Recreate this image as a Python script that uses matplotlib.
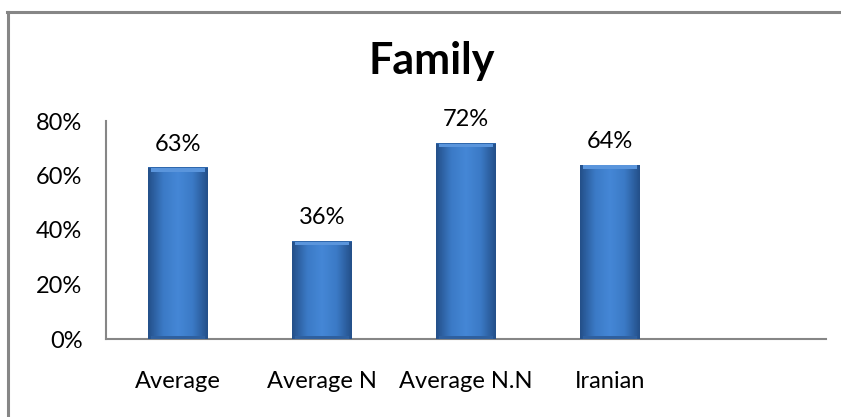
import matplotlib
matplotlib.use("Agg")
import matplotlib.pyplot as plt
import numpy as np
from matplotlib.colors import LinearSegmentedColormap
from matplotlib.lines import Line2D

categories = ["Average", "Average N", "Average N.N", "Iranian", ""]
values = [0.63, 0.36, 0.72, 0.64, np.nan]
labels = ["63%", "36%", "72%", "64%", ""]
yticks = [0, 0.2, 0.4, 0.6, 0.8]
ytick_labels = ["0%", "20%", "40%", "60%", "80%"]
title = "Family"

plt.rcParams['font.family'] = ['Lato', 'DejaVu Sans']
FS = 17

fig = plt.figure(figsize=(8.41, 4.17), dpi=100)
ax = fig.add_axes([106/841, (417-339)/417, (826-106)/841, (339-121)/417])

x = np.arange(len(categories))
bars = ax.bar(x, np.nan_to_num(values), width=0.41, color="#3C78C3", zorder=2,
              edgecolor="none")

cmap = LinearSegmentedColormap.from_list("bev", ["#24508A", "#3B7AC6", "#4587D6", "#3B7AC6", "#24508A"])
for b, v in zip(bars, values):
    if np.isnan(v):
        continue
    x0, y0 = b.get_x(), b.get_y()
    w, h = b.get_width(), b.get_height()
    grad = np.tile(np.linspace(0, 1, 60), (40, 1))
    im = ax.imshow(grad, cmap=cmap, extent=(x0, x0 + w, y0, y0 + h), aspect="auto",
                   origin="lower", zorder=3, interpolation="bicubic")
    im.set_clip_path(b)
    # top bevel highlight
    ax.add_patch(plt.Rectangle((x0 + w*0.05, y0 + h - 0.016), w*0.90, 0.014,
                               color="#5A95DC", zorder=4, lw=0))
    ax.add_patch(plt.Rectangle((x0, y0 + h - 0.003), w, 0.003,
                               color="#3068AD", zorder=4, lw=0))
    # bottom bevel shade
    ax.add_patch(plt.Rectangle((x0 + w*0.05, y0), w*0.90, 0.012,
                               color="#2F609F", zorder=4, lw=0))

for b, v, lab in zip(bars, values, labels):
    if np.isnan(v):
        continue
    ax.annotate(lab, (b.get_x() + b.get_width()/2, v), xytext=(0, 9),
                textcoords="offset points", ha="center", va="bottom",
                fontsize=FS, color="#000000")

ax.set_xlim(-0.5, len(categories) - 0.5)
ax.set_ylim(0, 0.8)
ax.set_yticks(yticks)
ax.set_yticklabels(ytick_labels, fontsize=FS)
ax.set_xticks(x)
ax.set_xticklabels(categories, fontsize=FS)
ax.tick_params(axis="y", length=0, pad=17)
ax.tick_params(axis="x", length=0, pad=23)
for s in ["top", "right"]:
    ax.spines[s].set_visible(False)
for s in ["left", "bottom"]:
    ax.spines[s].set_color("#868686")
    ax.spines[s].set_linewidth(1.5)

fig.text(432/841, (417-61)/417, title, ha="center", va="center",
         fontsize=31, fontweight="bold", color="#000000")

# chart border (left and top)
fig.add_artist(Line2D([8/841, 8/841], [0, (417-12)/417], transform=fig.transFigure,
                      color="#868686", lw=2.2))
fig.add_artist(Line2D([7/841, 1], [(417-12)/417, (417-12)/417], transform=fig.transFigure,
                      color="#868686", lw=2.2))

fig.savefig("out.png", dpi=100)
